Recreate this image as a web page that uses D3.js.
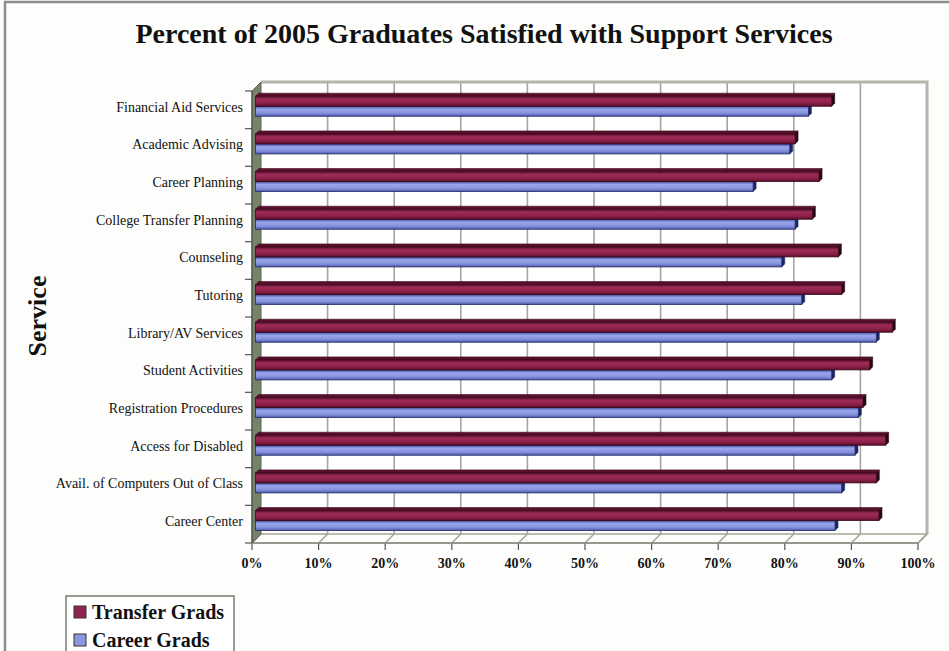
<!DOCTYPE html>
<html>
<head>
<meta charset="utf-8">
<script src="https://cdn.jsdelivr.net/npm/d3@7"></script>
<style>
    body { margin: 0; background: #fdfdfb; }
    svg { display: block; }
    text { font-family: "Liberation Serif", "Times New Roman", serif; fill: #111; }
</style>
</head>
<body>
<div id="viz"></div>
<script>
let categories = ['Financial Aid Services', 'Academic Advising', 'Career Planning', 'College Transfer Planning',
    'Counseling', 'Tutoring', 'Library/AV Services', 'Student Activities', 'Registration Procedures',
    'Access for Disabled', 'Avail. of Computers Out of Class', 'Career Center'];
let seriesNames = ['Transfer Grads', 'Career Grads'];
let transferGrads = [86.5, 81, 84.6, 83.6, 87.5, 88, 95.6, 92.2, 91.2, 94.6, 93.2, 93.6];
let careerGrads = [83, 80.2, 74.7, 81, 79, 82, 93.2, 86.5, 90.5, 90, 88, 87];
let xTicks = [0, 10, 20, 30, 40, 50, 60, 70, 80, 90, 100];

let width = 949, height = 651;
let depth = 9; // 3d offset of back wall
let barDepth = 3;

window.onload = function () {
    let svg = d3.select('#viz').append('svg')
        .attr('width', width)
        .attr('height', height);

    // gradients for the bar faces
    let defs = svg.append('defs');
    let grads = [
        {id: 'g-transfer', stops: ['#5a0e2c', '#9e2c58', '#8a2047', '#5a0e2c']},
        {id: 'g-career', stops: ['#3f4b9c', '#9aa6ec', '#8490da', '#4b57a8']}
    ];
    for (let g of grads) {
        let lg = defs.append('linearGradient').attr('id', g.id)
            .attr('x1', 0).attr('y1', 0).attr('x2', 0).attr('y2', 1);
        [0, 0.3, 0.7, 1].forEach((o, i) => lg.append('stop').attr('offset', o).attr('stop-color', g.stops[i]));
    }

    // chart border
    svg.append('rect')
        .attr('x', 5).attr('y', 2)
        .attr('width', width + 20).attr('height', height + 20)
        .attr('fill', '#fdfdfb')
        .attr('stroke', '#8d8d8d')
        .attr('stroke-width', 2.5);

    let x = d3.scaleLinear().domain([0, 100]).range([252, 918]);
    let y = d3.scaleBand().domain(categories).range([91, 543]);
    let sub = d3.scaleBand().domain(seriesNames).range([0, y.bandwidth()]).paddingOuter(0.88);

    let x0 = x(0), x1 = x(100), yTop = y.range()[0], yBot = y.range()[1];

    // back wall
    svg.append('rect')
        .attr('x', x0 + depth).attr('y', yTop - depth)
        .attr('width', x1 - x0).attr('height', yBot - yTop)
        .attr('fill', '#ffffff');

    // gridlines on back wall and floor
    let grid = svg.append('g');
    grid.selectAll('.grid')
        .data(xTicks.slice(1, -1))
        .enter()
        .append('line')
        .attr('x1', d => x(d) + depth).attr('x2', d => x(d) + depth)
        .attr('y1', yTop - depth).attr('y2', yBot - depth)
        .attr('stroke', '#a4a79a')
        .attr('stroke-width', 1.6);
    grid.selectAll('.floor')
        .data(xTicks)
        .enter()
        .append('line')
        .attr('x1', d => x(d)).attr('x2', d => x(d) + depth)
        .attr('y1', yBot).attr('y2', yBot - depth)
        .attr('stroke', '#a4a79a')
        .attr('stroke-width', 1.6);

    // wall outline (top and right edge), floor lines
    svg.append('path')
        .attr('d', `M${x0 + depth},${yTop - depth}H${x1 + depth}V${yBot - depth}`)
        .attr('fill', 'none')
        .attr('stroke', '#b3b6aa')
        .attr('stroke-width', 3);
    svg.append('path')
        .attr('d', `M${x0 + depth},${yBot - depth}H${x1 + depth}L${x1},${yBot}H${x0}`)
        .attr('fill', 'none')
        .attr('stroke', '#a4a79a')
        .attr('stroke-width', 1.6);

    // left side wall
    svg.append('path')
        .attr('d', `M${x0},${yTop}L${x0 + depth},${yTop - depth}V${yBot - depth}L${x0},${yBot}Z`)
        .attr('fill', '#74836a')
        .attr('stroke', '#5c6653')
        .attr('stroke-width', 1);

    // value axis ticks + labels
    let xAxis = svg.append('g');
    xAxis.selectAll('line')
        .data(xTicks)
        .enter()
        .append('line')
        .attr('x1', d => x(d)).attr('x2', d => x(d))
        .attr('y1', yBot).attr('y2', yBot + 7)
        .attr('stroke', '#555')
        .attr('stroke-width', 1.2);
    xAxis.selectAll('text')
        .data(xTicks)
        .enter()
        .append('text')
        .attr('x', d => x(d))
        .attr('y', 568)
        .attr('text-anchor', 'middle')
        .style('font-size', '14px')
        .style('font-weight', 'bold')
        .text(d => d + '%');
    xAxis.append('line')
        .attr('x1', x0).attr('x2', x1)
        .attr('y1', yBot).attr('y2', yBot)
        .attr('stroke', '#8a8d82')
        .attr('stroke-width', 1.4);

    // category axis
    let yAxis = svg.append('g');
    yAxis.append('line')
        .attr('x1', x0).attr('x2', x0)
        .attr('y1', yTop).attr('y2', yBot)
        .attr('stroke', '#555')
        .attr('stroke-width', 1.2);
    yAxis.selectAll('.tick')
        .data(categories.concat(['end']))
        .enter()
        .append('line')
        .attr('x1', x0 - 7).attr('x2', x0)
        .attr('y1', d => d === 'end' ? yBot : y(d))
        .attr('y2', d => d === 'end' ? yBot : y(d))
        .attr('stroke', '#555')
        .attr('stroke-width', 1.2);
    yAxis.selectAll('text')
        .data(categories)
        .enter()
        .append('text')
        .attr('x', 243)
        .attr('y', d => y(d) + y.bandwidth() / 2 - 3)
        .attr('dy', '0.35em')
        .attr('text-anchor', 'end')
        .style('font-size', '14px')
        .text(d => d);

    // bars (drawn at mid depth)
    let ox = depth * 0.4, oy = -depth * 0.4;
    let series = [
        {name: 'Career Grads', values: careerGrads, grad: 'url(#g-career)', top: '#4a56a6', end: '#1b2462', stroke: '#252d6a'},
        {name: 'Transfer Grads', values: transferGrads, grad: 'url(#g-transfer)', top: '#5c0f2d', end: '#26060f', stroke: '#3a0a1c'}
    ];
    let bh = sub.bandwidth();
    for (let s of series) {
        let g = svg.append('g');
        let rows = categories.map((c, i) => ({
            cat: c,
            xs: x(0) + ox,
            xe: x(s.values[i]) + ox,
            yy: y(c) + sub(s.name) + oy
        }));
        g.selectAll('.top')
            .data(rows)
            .enter()
            .append('path')
            .attr('d', d => `M${d.xs},${d.yy}L${d.xs + barDepth},${d.yy - barDepth}H${d.xe + barDepth}L${d.xe},${d.yy}Z`)
            .attr('fill', s.top)
            .attr('stroke', s.stroke)
            .attr('stroke-width', 0.6);
        g.selectAll('.end')
            .data(rows)
            .enter()
            .append('path')
            .attr('d', d => `M${d.xe},${d.yy}L${d.xe + barDepth},${d.yy - barDepth}V${d.yy - barDepth + bh}L${d.xe},${d.yy + bh}Z`)
            .attr('fill', s.end)
            .attr('stroke', s.stroke)
            .attr('stroke-width', 0.6);
        g.selectAll('.front')
            .data(rows)
            .enter()
            .append('rect')
            .attr('x', d => d.xs)
            .attr('y', d => d.yy)
            .attr('width', d => d.xe - d.xs)
            .attr('height', bh)
            .attr('fill', s.grad)
            .attr('stroke', s.stroke)
            .attr('stroke-width', 0.8);
    }

    // title
    svg.append('text')
        .attr('x', 484)
        .attr('y', 43)
        .attr('text-anchor', 'middle')
        .style('font-size', '28px')
        .style('font-weight', 'bold')
        .text('Percent of 2005 Graduates Satisfied with Support Services');

    // axis title
    svg.append('text')
        .attr('transform', 'translate(46,316) rotate(-90)')
        .attr('text-anchor', 'middle')
        .style('font-size', '26px')
        .style('font-weight', 'bold')
        .text('Service');

    // legend
    let legend = svg.append('g');
    legend.append('rect')
        .attr('x', 66).attr('y', 596)
        .attr('width', 168).attr('height', 80)
        .attr('fill', '#ffffff')
        .attr('stroke', '#7a7a72')
        .attr('stroke-width', 1.5);
    let legendItems = [
        {name: seriesNames[0], color: '#8e2450'},
        {name: seriesNames[1], color: '#8c96dc'}
    ];
    legend.selectAll('.sw')
        .data(legendItems)
        .enter()
        .append('rect')
        .attr('x', 74)
        .attr('y', (d, i) => 606 + i * 28)
        .attr('width', 12).attr('height', 12)
        .attr('fill', d => d.color)
        .attr('stroke', '#333')
        .attr('stroke-width', 1);
    legend.selectAll('text')
        .data(legendItems)
        .enter()
        .append('text')
        .attr('x', 92)
        .attr('y', (d, i) => 619 + i * 28)
        .style('font-size', '20px')
        .style('font-weight', 'bold')
        .text(d => d.name);
};
</script>
</body>
</html>
